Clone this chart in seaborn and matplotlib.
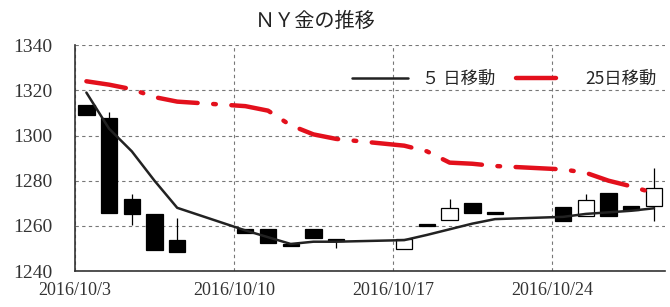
import pandas as pd
import seaborn as sns
import matplotlib.pyplot as plt
import matplotlib.dates as mdates

# Daily NY gold prices, Oct 2016
days = ["2016-10-03", "2016-10-04", "2016-10-05", "2016-10-06", "2016-10-07",
        "2016-10-10", "2016-10-11", "2016-10-12", "2016-10-13", "2016-10-14",
        "2016-10-17", "2016-10-18", "2016-10-19", "2016-10-20", "2016-10-21",
        "2016-10-24", "2016-10-25", "2016-10-26", "2016-10-27", "2016-10-28"]
open_px = [1313.5, 1307.7, 1272.0, 1265.2, 1253.7,
           1258.6, 1258.6, 1252.2, 1258.6, 1253.4,
           1249.6, 1261.0, 1262.6, 1270.0, 1266.0,
           1268.3, 1264.5, 1274.5, 1268.8, 1268.8]
high_px = [1313.5, 1310.4, 1274.0, 1265.2, 1263.4,
           1258.6, 1258.6, 1252.2, 1258.6, 1253.8,
           1254.0, 1261.0, 1272.0, 1270.0, 1266.0,
           1268.3, 1274.0, 1274.5, 1268.8, 1285.6]
low_px = [1309.0, 1265.7, 1260.4, 1249.3, 1248.4,
          1256.8, 1252.4, 1251.2, 1254.6, 1250.3,
          1249.6, 1260.0, 1262.6, 1265.7, 1265.3,
          1262.1, 1264.3, 1264.3, 1267.0, 1262.1]
close_px = [1309.0, 1265.7, 1265.2, 1249.3, 1248.4,
            1256.8, 1252.4, 1251.2, 1254.6, 1253.2,
            1254.0, 1260.0, 1268.0, 1265.7, 1265.3,
            1262.1, 1271.4, 1264.3, 1267.0, 1276.7]
ma5 = [1319.0, 1303.0, 1293.0, 1280.0, 1268.0,
       1258.0, 1255.0, 1252.0, 1253.0, 1253.0,
       1253.7, 1256.0, 1258.5, 1261.0, 1263.0,
       1264.0, 1265.3, 1266.0, 1266.7, 1267.8]
ma25 = [1324.0, 1322.5, 1320.5, 1317.0, 1315.0,
        1313.0, 1311.0, 1304.5, 1300.5, 1298.5,
        1295.5, 1293.0, 1288.0, 1287.5, 1286.5,
        1285.0, 1283.5, 1280.0, 1277.5, 1274.5]
tick_days = ["2016-10-03", "2016-10-10", "2016-10-17", "2016-10-24"]
yticks = [1240, 1260, 1280, 1300, 1320, 1340]

df = pd.DataFrame({"date": pd.to_datetime(days), "open": open_px, "high": high_px,
                   "low": low_px, "close": close_px, "ma5": ma5, "ma25": ma25})
# each day sits in the middle of its slot (Excel date axis style)
df["x"] = df["date"] + pd.Timedelta(hours=12)

sns.set_style("white")
plt.rcParams['font.family'] = ['Noto Sans CJK JP', 'DejaVu Sans']

fig = plt.figure(figsize=(6.7, 3.07), dpi=100)
ax = fig.add_axes([0.112, 0.117, 0.881, 0.736])

# candles
ax.vlines(df["x"], df["low"], df["high"], color="black", linewidth=0.9, zorder=3)
up = df["close"] >= df["open"]
body_bottom = df[["open", "close"]].min(axis=1)
body_height = (df["close"] - df["open"]).abs().clip(lower=0.8)
ax.bar(df["x"], body_height, bottom=body_bottom, width=0.72,
       color=["white" if u else "black" for u in up], edgecolor="black",
       linewidth=0.9, zorder=4)

# moving averages
sns.lineplot(data=df, x="x", y="ma5", ax=ax, color="#222222", linewidth=1.8,
             label="５ 日移動", zorder=5)
sns.lineplot(data=df, x="x", y="ma25", ax=ax, color="#e3101c", linewidth=3.2,
             label="25日移動", zorder=5, dashes=False)
ax.lines[-1].set_dashes((9, 3.5, 0.6, 3.5))
ax.lines[-1].set_dash_capstyle("round")

ax.set_ylim(1240, 1340)
ax.set_xlim(pd.Timestamp("2016-10-03"), pd.Timestamp("2016-10-29"))
ax.set_yticks(yticks)
ax.set_xticks(pd.to_datetime(tick_days))
ax.xaxis.set_major_formatter(mdates.DateFormatter("%Y/%m/%-d"))
for lbl in ax.get_yticklabels():
    lbl.set_family("Liberation Serif")
    lbl.set_fontsize(14)
    lbl.set_color("#333333")
for lbl in ax.get_xticklabels():
    lbl.set_family("Liberation Serif")
    lbl.set_fontsize(13)
    lbl.set_color("#333333")
ax.tick_params(axis="both", direction="in", length=4, width=0.8, color="#555555")
ax.tick_params(axis="y", pad=16)
ax.tick_params(axis="x", pad=8)

ax.grid(True, color="#777777", linestyle=(0, (3, 3)), linewidth=0.8)
ax.set_axisbelow(True)
for s in ["top", "right"]:
    ax.spines[s].set_visible(False)
for s in ["left", "bottom"]:
    ax.spines[s].set_color("#333333")
    ax.spines[s].set_linewidth(1.2)
ax.set_xlabel("")
ax.set_ylabel("")

ax.legend(loc="upper right", bbox_to_anchor=(1.0, 0.93), ncol=2, frameon=False,
          fontsize=12.5, handlelength=3.2, columnspacing=1.2, handletextpad=0.8,
          borderaxespad=0.1)

fig.text(0.47, 0.93, "ＮＹ金の推移", ha="center", va="center", fontsize=14.5, color="#222222")

fig.savefig("out.png", dpi=100)
